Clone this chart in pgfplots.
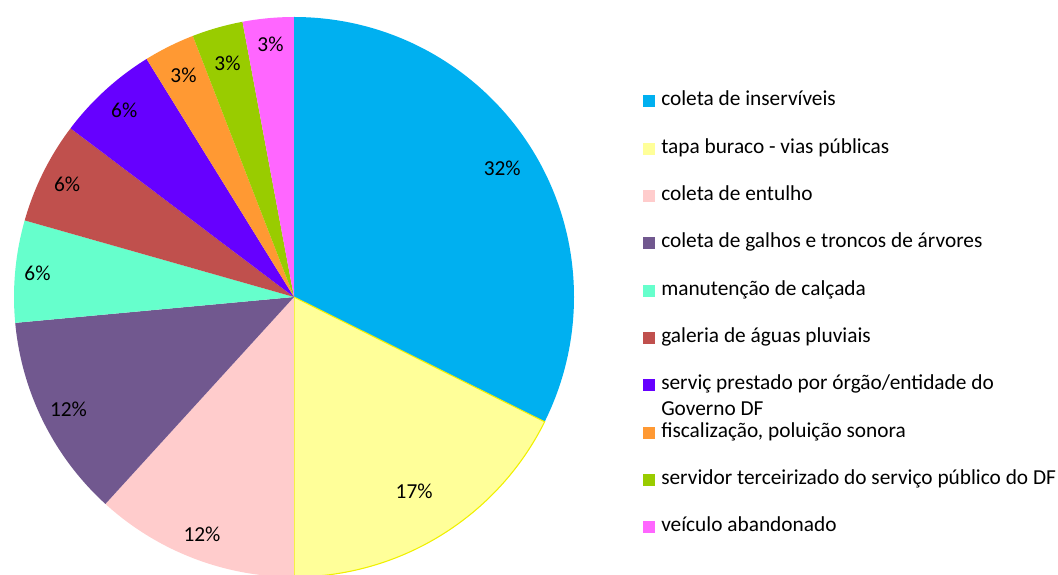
\documentclass[border=0pt]{standalone}
\usepackage{pgfplots}
\pgfplotsset{compat=1.18}
\usepackage{pgfplotstable}
\usepackage{fontspec}
\setmainfont{Carlito}

\definecolor{s1c}{HTML}{00B0F0}
\definecolor{s2c}{HTML}{FFFF99}
\definecolor{s2e}{HTML}{F0F000}
\definecolor{s3c}{HTML}{FFCCCC}
\definecolor{s4c}{HTML}{71588F}
\definecolor{s5c}{HTML}{66FFCC}
\definecolor{s6c}{HTML}{C0504D}
\definecolor{s7c}{HTML}{6600FF}
\definecolor{s8c}{HTML}{FF9933}
\definecolor{s9c}{HTML}{99CC00}
\definecolor{s10c}{HTML}{FF66FF}

\tikzset{
  s1/.style={fill=s1c},
  s2/.style={fill=s2c, draw=s2e, line width=0.8pt},
  s3/.style={fill=s3c},
  s4/.style={fill=s4c},
  s5/.style={fill=s5c},
  s6/.style={fill=s6c},
  s7/.style={fill=s7c},
  s8/.style={fill=s8c},
  s9/.style={fill=s9c},
  s10/.style={fill=s10c},
}

% count, printed percent, slice style, label radius (fraction of pie radius)
\pgfplotstableread{
value pct style lr
11 32 s1 0.875
6  17 s2 0.815
4  12 s3 0.91
4  12 s4 0.90
2  6  s5 0.92
2  6  s6 0.905
2  6  s7 0.90
1  3  s8 0.885
1  3  s9 0.867
1  3  s10 0.907
}\piedata

\newcommand{\lbfont}{\fontsize{16}{19}\selectfont}
\def\pierad{210pt}

\begin{document}
\begin{tikzpicture}
\begin{axis}[
    name=pie,
    hide axis,
    scale only axis,
    width=420pt, height=420pt,
    xmin=-1, xmax=1, ymin=-1, ymax=1,
    clip=false,
    legend cell align=left,
    legend image code/.code={\path[draw=none,#1] (0pt,-4pt) rectangle (9pt,5pt);},
    legend style={draw=none, fill=none, at={(1.1232,0.868)}, anchor=north west,
        inner sep=0pt, row sep=19.5pt, column sep=4.5pt,
        nodes={inner sep=0pt, text height=11pt, text depth=5pt, font=\lbfont}},
]
\pgfplotstablegetrowsof{\piedata}
\pgfmathtruncatemacro\lastrow{\pgfplotsretval-1}
\def\total{0}
\pgfplotsforeachungrouped \i in {0,...,\lastrow}{%
  \pgfplotstablegetelem{\i}{value}\of\piedata
  \pgfmathsetmacro\total{\total+\pgfplotsretval}%
}
\def\angstart{90}
\pgfplotsforeachungrouped \i in {0,...,\lastrow}{%
  \pgfplotstablegetelem{\i}{value}\of\piedata \let\v\pgfplotsretval
  \pgfplotstablegetelem{\i}{pct}\of\piedata \let\p\pgfplotsretval
  \pgfplotstablegetelem{\i}{style}\of\piedata \let\st\pgfplotsretval
  \pgfplotstablegetelem{\i}{lr}\of\piedata \let\lr\pgfplotsretval
  \pgfmathsetmacro\angend{\angstart-\v/\total*360}%
  \pgfmathsetmacro\angmid{(\angstart+\angend)/2}%
  \edef\temp{%
    \noexpand\path[\st] (axis cs:0,0) -- (axis cs:{cos(\angstart)},{sin(\angstart)})
      arc[start angle=\angstart, end angle=\angend, radius=\pierad] -- cycle;
    \noexpand\node[font=\noexpand\lbfont, inner sep=0pt]
      at (axis cs:{\lr*cos(\angmid)},{\lr*sin(\angmid)}) {\p\noexpand\%};
  }\temp
  \let\angstart\angend
}
\addlegendimage{s1}\addlegendentry{coleta de inservíveis}
\addlegendimage{s2}\addlegendentry{tapa buraco - vias públicas}
\addlegendimage{s3}\addlegendentry{coleta de entulho}
\addlegendimage{s4}\addlegendentry{coleta de galhos e troncos de árvores}
\addlegendimage{s5}\addlegendentry{manutenção de calçada}
\addlegendimage{s6}\addlegendentry{galeria de águas pluviais}
\addlegendimage{s7}\addlegendentry{\begin{tabular}[t]{@{}l@{}}serviç prestado por órgão/entidade do\\Governo DF\end{tabular}}
\addlegendimage{s8}\addlegendentry{fiscalização, poluição sonora}
\addlegendimage{s9}\addlegendentry{servidor terceirizado do serviço público do DF}
\addlegendimage{s10}\addlegendentry{veículo abandonado}
\end{axis}
\pgfresetboundingbox
\path[use as bounding box] ([shift={(-220.5pt,-208.5pt)}]pie.center) rectangle ([shift={(573pt,222.75pt)}]pie.center);
\end{tikzpicture}
\end{document}
